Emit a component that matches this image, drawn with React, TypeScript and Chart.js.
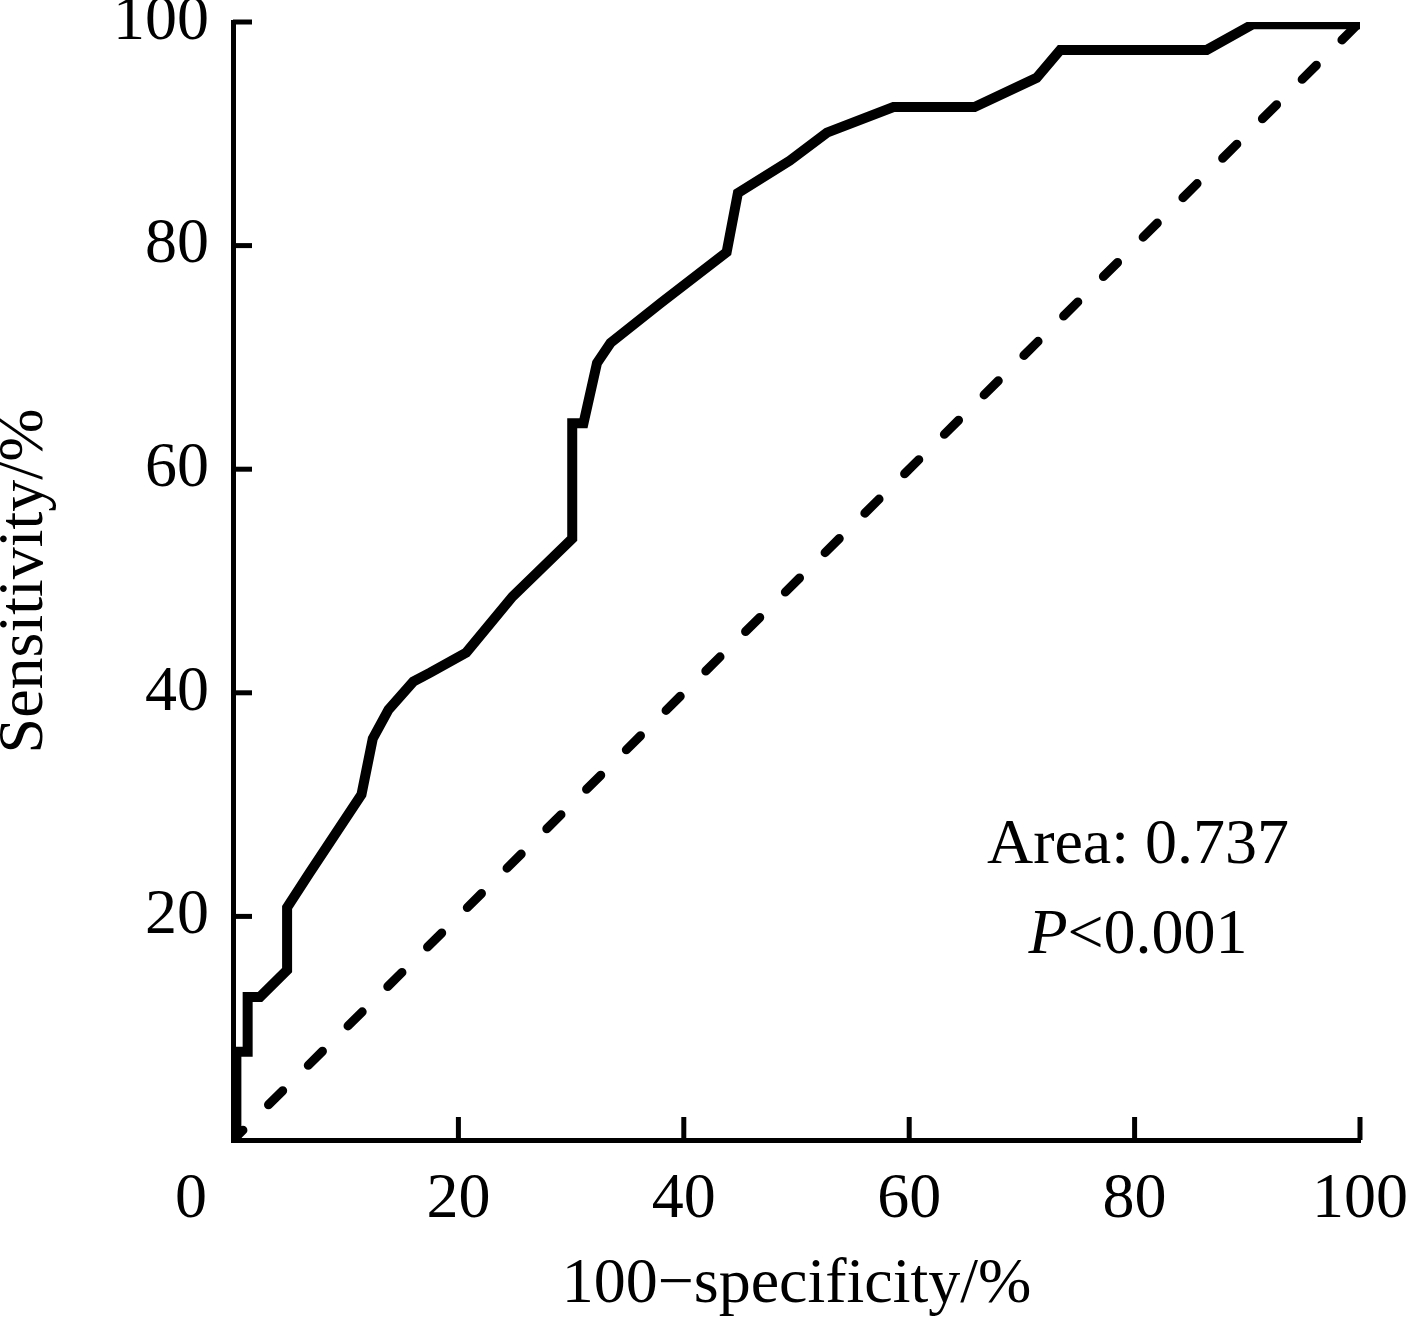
import { useEffect, useRef } from "react"
import { Chart, registerables } from "chart.js"

Chart.register(...registerables)

// ROC curve (100-specificity vs sensitivity, in %)
const fprValues = [
  0.3, 0.3, 1.3, 1.3, 2.4, 4.8, 4.8, 6.8, 11.4, 12.4, 13.8, 16.0, 17.5, 20.7, 24.8, 30.1,
  30.1, 31.1, 32.3, 33.5, 38.0, 43.8, 44.8, 49.4, 52.7, 58.6, 65.8, 71.3, 73.4, 86.4, 90.5, 100,
]
const tprValues = [
  0, 7.9, 7.9, 12.8, 12.8, 15.2, 20.8, 23.9, 30.9, 35.9, 38.5, 41.0, 41.8, 43.6, 48.6, 53.8,
  64.1, 64.1, 69.5, 71.3, 74.9, 79.4, 84.7, 87.6, 90.1, 92.4, 92.4, 95.0, 97.5, 97.5, 99.8, 99.8,
]

// reference (chance) line
const diagX = [0, 100]
const diagY = [0, 100]

const tickValues = [0, 20, 40, 60, 80, 100]

const xTitle = "100\u2212specificity/%"
const yTitle = "Sensitivity/%"
const areaText = "Area: 0.737"
const pItalic = "P"
const pRest = "<0.001"

const FONT = '"Liberation Serif", "Times New Roman", serif'

// inward tick marks, shared origin "0" and the AUC note
const rocDecor = {
  id: "rocDecor",
  afterDraw(chart: any) {
    const { ctx, chartArea, scales } = chart
    const xs = scales.x
    const ys = scales.y
    ctx.save()
    ctx.strokeStyle = "#000"
    ctx.lineWidth = 5
    ctx.lineCap = "butt"
    tickValues.forEach((v) => {
      if (v === 0) return
      const py = ys.getPixelForValue(v)
      ctx.beginPath()
      ctx.moveTo(chartArea.left, py)
      ctx.lineTo(chartArea.left + 19, py)
      ctx.stroke()
      const px = xs.getPixelForValue(v)
      ctx.beginPath()
      ctx.moveTo(px, chartArea.bottom)
      ctx.lineTo(px, chartArea.bottom - 23)
      ctx.stroke()
    })

    ctx.fillStyle = "#000"
    ctx.font = `64px ${FONT}`
    ctx.textAlign = "right"
    ctx.textBaseline = "middle"
    ctx.fillText("0", chartArea.left - 26, chartArea.bottom + 60)

    ctx.textAlign = "center"
    ctx.textBaseline = "alphabetic"
    const cx = xs.getPixelForValue(80.3)
    ctx.fillText(areaText, cx, ys.getPixelForValue(24.8))

    const py2 = ys.getPixelForValue(16.7)
    ctx.font = `italic 64px ${FONT}`
    const wItalic = ctx.measureText(pItalic).width
    ctx.font = `64px ${FONT}`
    const wRest = ctx.measureText(pRest).width
    const start = cx - (wItalic + wRest) / 2
    ctx.textAlign = "left"
    ctx.font = `italic 64px ${FONT}`
    ctx.fillText(pItalic, start, py2)
    ctx.font = `64px ${FONT}`
    ctx.fillText(pRest, start + wItalic, py2)
    ctx.restore()
  },
}

export default function App() {
  const chartRef = useRef<HTMLCanvasElement>(null)
  const chartInstance = useRef<Chart | null>(null)

  useEffect(() => {
    document.body.style.margin = "0"
    if (!chartRef.current) return
    if (chartInstance.current) chartInstance.current.destroy()
    const ctx = chartRef.current.getContext("2d")
    if (!ctx) return

    Chart.defaults.font.family = FONT
    Chart.defaults.color = "#000"

    const hideZero = (v: any) => (Number(v) === 0 ? "" : String(v))

    const config: any = {
      type: "line",
      data: {
        datasets: [
          {
            label: "ROC",
            data: fprValues.map((x, i) => ({ x, y: tprValues[i] })),
            borderColor: "#000",
            borderWidth: 10,
            borderJoinStyle: "miter",
            pointRadius: 0,
            tension: 0,
            fill: false,
          },
          {
            label: "Reference",
            data: diagX.map((x, i) => ({ x, y: diagY[i] })),
            borderColor: "#000",
            borderWidth: 9,
            borderDash: [20, 36],
            borderDashOffset: 6,
            borderCapStyle: "round",
            pointRadius: 0,
            tension: 0,
            fill: false,
          },
        ],
      },
      options: {
        responsive: false,
        animation: false,
        devicePixelRatio: 1,
        layout: { padding: { top: 22, right: 55, left: 0, bottom: 0 } },
        plugins: {
          legend: { display: false },
          tooltip: { enabled: false },
        },
        scales: {
          x: {
            type: "linear",
            min: 0,
            max: 100,
            grid: { display: false },
            border: { display: true, color: "#000", width: 5 },
            ticks: {
              stepSize: 20,
              maxRotation: 0,
              padding: 14,
              color: "#000",
              font: { size: 64, family: FONT },
              callback: hideZero,
            },
            title: {
              display: true,
              text: xTitle,
              color: "#000",
              font: { size: 64, family: FONT },
              padding: { top: 0, bottom: 0 },
            },
            afterFit: (scale: any) => {
              scale.height = 184
              scale.paddingLeft = 0
              scale.paddingRight = 0
            },
          },
          y: {
            type: "linear",
            min: 0,
            max: 100,
            grid: { display: false },
            border: { display: true, color: "#000", width: 5 },
            ticks: {
              stepSize: 20,
              padding: 16,
              color: "#000",
              font: { size: 64, family: FONT },
              callback: hideZero,
            },
            title: {
              display: true,
              text: yTitle,
              color: "#000",
              font: { size: 64, family: FONT, lineHeight: 0.8 },
              padding: { top: 0, bottom: 0 },
            },
            afterFit: (scale: any) => {
              scale.width = 233
              scale.paddingTop = 0
              scale.paddingBottom = 0
            },
          },
        },
      },
      plugins: [rocDecor],
    }

    chartInstance.current = new Chart(ctx, config)

    return () => {
      if (chartInstance.current) {
        chartInstance.current.destroy()
        chartInstance.current = null
      }
    }
  }, [])

  return (
    <div style={{ width: 1415, height: 1324, background: "#fff" }}>
      <canvas ref={chartRef} width={1415} height={1324} style={{ width: 1415, height: 1324 }} />
    </div>
  )
}
